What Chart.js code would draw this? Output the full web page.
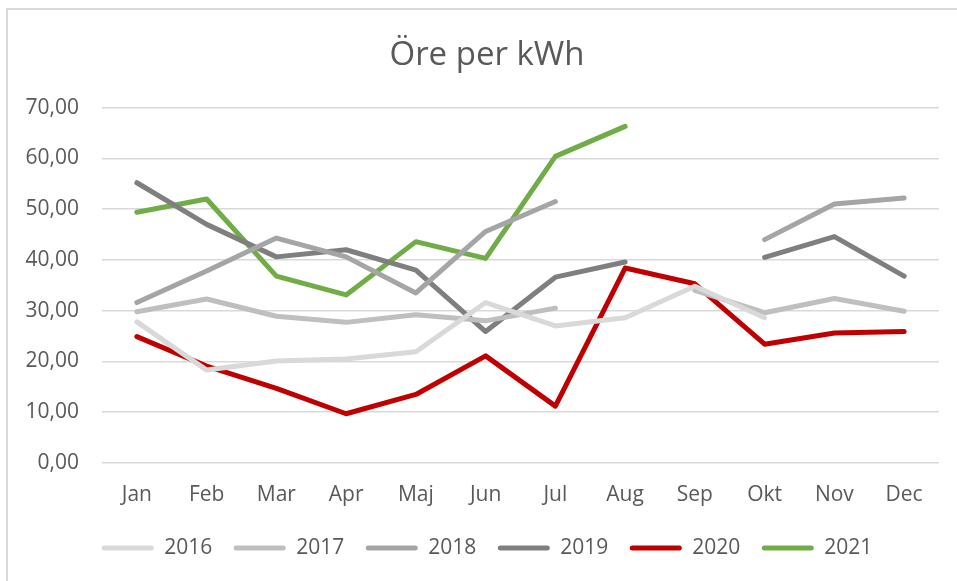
<!DOCTYPE html>
<html>
<head>
<meta charset="utf-8">
<script src="https://cdn.jsdelivr.net/npm/chart.js@4"></script>
<style>
  html, body { margin: 0; padding: 0; background: #fff; overflow: hidden; width: 957px; height: 581px; }
  #frame { position: absolute; left: 6px; top: 8px; width: 1200px; height: 1000px; border: 2px solid #d9d9d9; }
  #wrap { position: absolute; left: 0; top: 0; width: 974px; height: 581px; }
</style>
</head>
<body>
<div id="frame"></div>
<div id="wrap"><canvas id="c" width="974" height="581"></canvas></div>
<script>
const months = ['Jan', 'Feb', 'Mar', 'Apr', 'Maj', 'Jun', 'Jul', 'Aug', 'Sep', 'Okt', 'Nov', 'Dec'];
const years = ['2016', '2017', '2018', '2019', '2020', '2021'];
const colors = ['#d9d9d9', '#bfbfbf', '#a5a5a5', '#7f7f7f', '#c00000', '#70ad47'];

const v2016 = [27.8, 18.3, 20.1, 20.5, 21.9, 31.6, 27.0, 28.6, 34.8, 28.6, null, null];
const v2017 = [29.8, 32.3, 28.9, 27.7, 29.2, 28.0, 30.5, null, 34.0, 29.6, 32.4, 29.9];
const v2018 = [31.6, 37.8, 44.3, 40.6, 33.5, 45.6, 51.5, null, null, 44.0, 51.0, 52.2];
const v2019 = [55.2, 47.0, 40.6, 42.0, 38.0, 25.9, 36.6, 39.6, null, 40.5, 44.6, 36.8];
const v2020 = [24.9, 19.1, 14.7, 9.7, 13.5, 21.1, 11.2, 38.4, 35.3, 23.4, 25.6, 25.9];
const v2021 = [49.4, 52.0, 36.8, 33.1, 43.6, 40.3, 60.4, 66.3, null, null, null, null];
const seriesValues = [v2016, v2017, v2018, v2019, v2020, v2021];

const yMin = 0, yMax = 70, yStep = 10;
const textColor = '#595959';
const fontFamily = '"Open Sans", "Liberation Sans", sans-serif';

const datasets = years.map((y, i) => ({
  label: y,
  data: seriesValues[i],
  borderColor: colors[i],
  backgroundColor: colors[i],
  borderWidth: 5,
  borderCapStyle: 'round',
  borderJoinStyle: 'round',
  pointRadius: 0,
  pointHoverRadius: 0,
  tension: 0,
  spanGaps: false,
  fill: false
}));

new Chart(document.getElementById('c'), {
  type: 'line',
  data: { labels: months, datasets },
  options: {
    responsive: false,
    animation: false,
    devicePixelRatio: 1,
    layout: { padding: { left: 0, right: 0, top: 0, bottom: 12.5 } },
    plugins: {
      title: {
        display: true,
        text: 'Öre per kWh',
        color: textColor,
        font: { family: fontFamily, size: 33, weight: 'normal' },
        padding: { top: 36, bottom: 32 }
      },
      legend: {
        display: true,
        position: 'bottom',
        labels: {
          color: textColor,
          font: { family: fontFamily, size: 21 },
          boxWidth: 52,
          boxHeight: 5,
          padding: 21.5,
          useBorderRadius: true,
          borderRadius: 2.5,
          generateLabels: (chart) => chart.data.datasets.map((ds, i) => ({
            text: ds.label,
            fillStyle: ds.borderColor,
            strokeStyle: ds.borderColor,
            lineWidth: 0,
            fontColor: textColor,
            hidden: false,
            datasetIndex: i,
            borderRadius: 2.5
          }))
        }
      },
      tooltip: { enabled: false }
    },
    scales: {
      x: {
        offset: true,
        grid: { display: false, drawTicks: false, offset: true },
        border: { display: false },
        ticks: { color: textColor, font: { family: fontFamily, size: 21 }, padding: 19, maxRotation: 0 },
        afterFit: (s) => { s.height = 53; }
      },
      y: {
        min: yMin,
        max: yMax,
        grid: { color: '#d9d9d9', lineWidth: 1.5, drawTicks: false },
        border: { display: false },
        ticks: {
          stepSize: yStep,
          color: textColor,
          font: { family: fontFamily, size: 21 },
          padding: 23,
          callback: (v) => Number(v).toFixed(2).replace('.', ',')
        },
        afterFit: (s) => { s.width = 102; }
      },
      yRightSpace: {
        type: 'linear',
        position: 'right',
        min: yMin,
        max: yMax,
        grid: { display: false, drawTicks: false },
        border: { display: false },
        ticks: { display: false },
        afterFit: (s) => { s.width = 35; }
      }
    }
  }
});
</script>
</body>
</html>
